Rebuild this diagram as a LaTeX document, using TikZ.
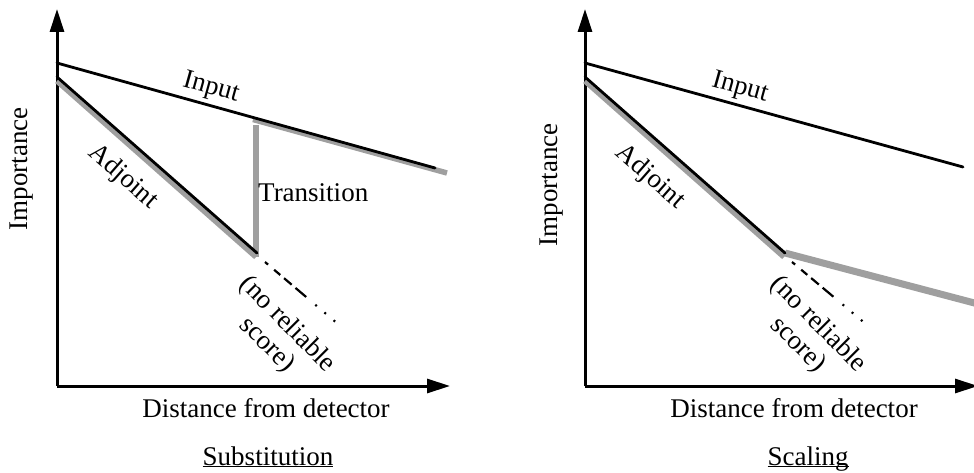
\documentclass[tikz,border=0pt]{standalone}
\usepackage{fontspec}
\setmainfont{Liberation Serif}
\usetikzlibrary{arrows.meta}

\begin{document}
\begin{tikzpicture}[x=1pt, y=-1pt,
    font=\fontsize{27}{29}\selectfont,
    axis/.style={line width=3pt, -{Triangle[length=23pt,width=14pt]}},
    curve/.style={line width=2.8pt, line cap=round},
    shade/.style={line width=5.5pt, gray!75},
    noscore/.style={line width=2.2pt,
      dash pattern=on 4pt off 8pt on 8pt off 5pt on 10pt off 5pt on 14pt off 12pt on 2pt off 10pt on 2pt off 10pt on 2pt off 30pt}]
  \useasboundingbox (0,0) rectangle (974,473);
  %% Substitution panel
  \coordinate (sO) at (57,386);
  \coordinate (sY) at (57,9);
  \coordinate (sX) at (450,386);
  \coordinate (sIa) at (57,63);
  \coordinate (sIb) at (435,168);
  \coordinate (sAa) at (57,77);
  \coordinate (sAb) at (257,253);
  \coordinate (sGa) at (57,81);
  \coordinate (sGb) at (256,257);
  \coordinate (sTa) at (256,125);
  \coordinate (sTb) at (256,257);
  \coordinate (sUa) at (253,119.5);
  \coordinate (sUb) at (447,173);
  \coordinate (sDa) at (265,262);
  \coordinate (sDb) at (345,330);
  \draw[axis] (sO) -- (sY);
  \draw[axis] (sO) -- (sX);
  \draw[shade] (sGa) -- (sGb);
  \draw[shade] (sTa) -- (sTb);
  \draw[shade] (sUa) -- (sUb);
  \draw[curve] (sIa) -- (sIb);
  \draw[curve] (sAa) -- (sAb);
  \draw[noscore] (sDa) -- (sDb);
  \node[rotate=90] (sImp) at (22,169) {Importance};
  \node[rotate=-15.5] (sInp) at (211,88) {Input};
  \node[rotate=-41.3] (sAdj) at (123,177) {Adjoint};
  \node[anchor=west, inner sep=1pt] (sTr) at (257,193) {Transition};
  \node[rotate=-45, align=center] (sNo) at (277,335) {(no reliable\\score)};
  \node[anchor=base] (sDist) at (266,417) {Distance from detector};
  \node[anchor=base] (sCap) at (268,465) {\underline{\smash{Substitution}}};
  %% Scaling panel
  \coordinate (tO) at (585,386);
  \coordinate (tY) at (585,9);
  \coordinate (tX) at (978,386);
  \coordinate (tIa) at (585,63);
  \coordinate (tIb) at (963,167);
  \coordinate (tAa) at (585,77);
  \coordinate (tAb) at (785,253);
  \coordinate (tGa) at (585,81);
  \coordinate (tGb) at (784,257);
  \coordinate (tUa) at (785,253);
  \coordinate (tUb) at (982,305);
  \coordinate (tDa) at (792,262);
  \coordinate (tDb) at (873,330);
  \draw[axis] (tO) -- (tY);
  \draw[axis] (tO) -- (tX);
  \draw[shade] (tGa) -- (tGb);
  \draw[shade, line width=7pt] (tUa) -- (tUb);
  \draw[curve] (tIa) -- (tIb);
  \draw[curve] (tAa) -- (tAb);
  \draw[noscore] (tDa) -- (tDb);
  \node[rotate=90] (tImp) at (552,185) {Importance};
  \node[rotate=-15.5] (tInp) at (740,88) {Input};
  \node[rotate=-41.3] (tAdj) at (650,177) {Adjoint};
  \node[rotate=-45, align=center] (tNo) at (808,335) {(no reliable\\score)};
  \node[anchor=base] (tDist) at (794,417) {Distance from detector};
  \node[anchor=base] (tCap) at (808,465) {\underline{\smash{Scaling}}};
\end{tikzpicture}
\end{document}
